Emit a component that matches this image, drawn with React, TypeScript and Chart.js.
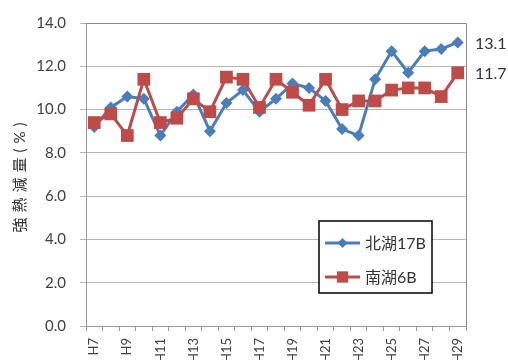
import React, { useEffect, useRef } from "react";
import { Chart, registerables } from "chart.js";

Chart.register(...registerables);

const years = ["H7","H8","H9","H10","H11","H12","H13","H14","H15","H16","H17","H18","H19","H20","H21","H22","H23","H24","H25","H26","H27","H28","H29"];
const north17B = [9.2,10.1,10.6,10.5,8.8,9.9,10.7,9.0,10.3,10.9,9.9,10.5,11.2,11.0,10.4,9.1,8.8,11.4,12.7,11.7,12.7,12.8,13.1];
const south6B = [9.4,9.8,8.8,11.4,9.4,9.6,10.5,9.9,11.5,11.4,10.1,11.4,10.8,10.2,11.4,10.0,10.4,10.4,10.9,11.0,11.0,10.6,11.7];
const seriesNames = ["北湖17B", "南湖6B"];
const yTitle = "強熱減量(%)";

const BLUE = "#4a7ebb";
const RED = "#be4b48";
const FONT = "Lato, 'Noto Sans CJK JP', sans-serif";

const extrasPlugin = {
  id: "extras",
  afterDraw(chart: any) {
    const ctx = chart.ctx;
    const area = chart.chartArea;
    const ys = chart.scales.y;
    ctx.save();
    // top and right border of plot area
    ctx.strokeStyle = "#8a8a8a";
    ctx.lineWidth = 1;
    ctx.beginPath();
    ctx.moveTo(area.left, area.top + 0.5);
    ctx.lineTo(area.right + 0.5, area.top + 0.5);
    ctx.lineTo(area.right + 0.5, area.bottom);
    ctx.stroke();

    // y axis title (letter-spaced, rotated)
    ctx.save();
    ctx.translate(20, (area.top + area.bottom) / 2 + 3);
    ctx.rotate(-Math.PI / 2);
    ctx.fillStyle = "#333333";
    ctx.font = "15px " + FONT;
    (ctx as any).letterSpacing = "5px";
    ctx.textAlign = "center";
    ctx.textBaseline = "middle";
    ctx.fillText(yTitle, 2.5, 0);
    ctx.restore();

    // end labels
    ctx.fillStyle = "#333333";
    ctx.font = "16px " + FONT;
    ctx.textAlign = "left";
    ctx.textBaseline = "middle";
    const ln = north17B[north17B.length - 1];
    const ls = south6B[south6B.length - 1];
    ctx.fillText(ln.toFixed(1), area.right + 9, ys.getPixelForValue(ln) + 1);
    ctx.fillText(ls.toFixed(1), area.right + 9, ys.getPixelForValue(ls) + 1);

    // legend box
    const bx = 319, by = 221, bw = 113, bh = 72;
    ctx.fillStyle = "#ffffff";
    ctx.fillRect(bx, by, bw, bh);
    ctx.strokeStyle = "#000000";
    ctx.lineWidth = 1.5;
    ctx.strokeRect(bx, by, bw, bh);
    const rows = [
      { name: seriesNames[0], color: BLUE, y: 243, style: "rectRot", r: 5 },
      { name: seriesNames[1], color: RED, y: 277, style: "rect", r: 8 },
    ];
    rows.forEach((row) => {
      ctx.strokeStyle = row.color;
      ctx.lineWidth = 3;
      ctx.beginPath();
      ctx.moveTo(325, row.y);
      ctx.lineTo(360, row.y);
      ctx.stroke();
      ctx.fillStyle = row.color;
      ctx.beginPath();
      if (row.style === "rectRot") {
        ctx.moveTo(342.5, row.y - row.r);
        ctx.lineTo(342.5 + row.r, row.y);
        ctx.lineTo(342.5, row.y + row.r);
        ctx.lineTo(342.5 - row.r, row.y);
        ctx.closePath();
        ctx.fill();
      } else {
        const s = row.r * Math.SQRT1_2;
        ctx.fillRect(342.5 - s, row.y - s, 2 * s, 2 * s);
      }
      ctx.fillStyle = "#333333";
      ctx.font = "16px " + FONT;
      ctx.textAlign = "left";
      ctx.textBaseline = "middle";
      ctx.fillText(row.name, 365, row.y + 1);
    });
    ctx.restore();
  },
};

export default function App() {
  const ref = useRef<HTMLCanvasElement | null>(null);
  useEffect(() => {
    if (!ref.current) return;
    Chart.defaults.font.family = FONT;
    const chart = new Chart(ref.current, {
      type: "line",
      data: {
        labels: years,
        datasets: [
          {
            label: seriesNames[1],
            data: south6B,
            borderColor: RED,
            backgroundColor: RED,
            borderWidth: 3,
            pointStyle: "rect",
            pointRadius: 9,
            pointBorderWidth: 0,
            tension: 0,
            order: 0,
          },
          {
            label: seriesNames[0],
            data: north17B,
            borderColor: BLUE,
            backgroundColor: BLUE,
            borderWidth: 3,
            pointStyle: "rectRot",
            pointRadius: 6,
            pointBorderWidth: 0,
            tension: 0,
            order: 1,
          },
        ],
      },
      options: {
        responsive: false,
        animation: false,
        layout: { padding: { left: 0, right: 42, top: 20, bottom: 0 } },
        plugins: { legend: { display: false }, tooltip: { enabled: false } },
        scales: {
          x: {
            offset: true,
            afterFit: (s: any) => { s.height = 34; },
            grid: { offset: true, drawOnChartArea: false, drawTicks: true, tickLength: 5, color: "#9a9a9a" },
            border: { display: true, color: "#9a9a9a" },
            ticks: {
              autoSkip: false,
              maxRotation: 90,
              minRotation: 90,
              padding: 7,
              color: "#404040",
              font: { size: 13, family: FONT },
              callback: (_v: any, i: number) => (i % 2 === 0 ? years[i] : ""),
            },
          },
          y: {
            min: 0,
            max: 14,
            afterFit: (s: any) => { s.width = 86; },
            grid: { color: "#b5b5b5", tickLength: 6 },
            border: { display: true, color: "#9a9a9a" },
            ticks: {
              stepSize: 2,
              padding: 14,
              color: "#404040",
              font: { size: 15, family: FONT },
              callback: (v: any) => Number(v).toFixed(1),
            },
          },
        },
      },
      plugins: [extrasPlugin],
    });
    return () => chart.destroy();
  }, []);
  return (
    <div style={{ position: "absolute", left: 0, top: 0, width: 508, height: 360 }}>
      <canvas ref={ref} width={508} height={360} />
    </div>
  );
}
